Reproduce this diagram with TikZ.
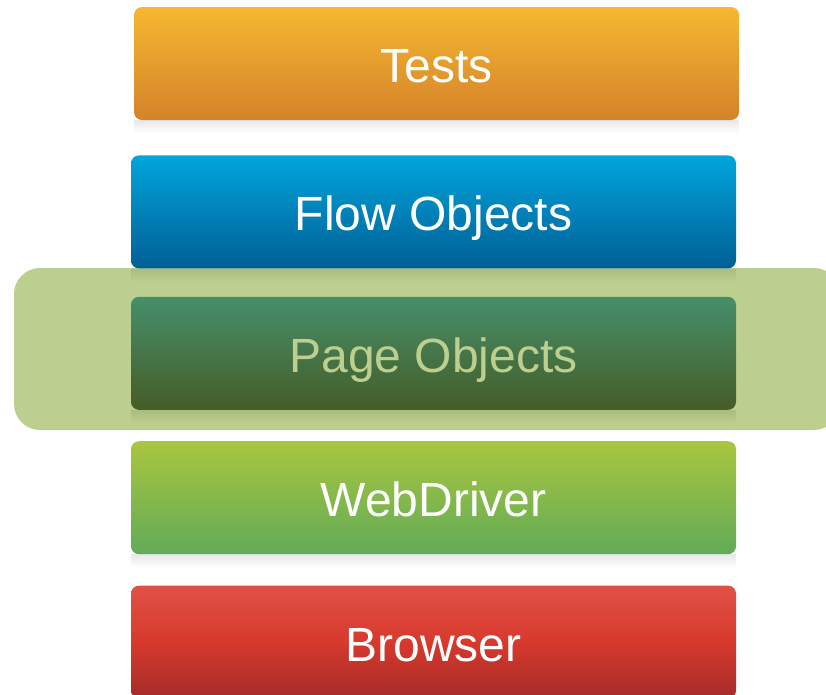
\documentclass[tikz,border=0pt]{standalone}
\usepackage{fontspec}
\setmainfont{Liberation Sans}
\usetikzlibrary{positioning,fadings}

\definecolor{testtop}{HTML}{F5B830}
\definecolor{testbot}{HTML}{D5822A}
\definecolor{flowtop}{HTML}{02A5DC}
\definecolor{flowbot}{HTML}{005F95}
\definecolor{pagetop}{HTML}{468F6B}
\definecolor{pagebot}{HTML}{455C26}
\definecolor{drivertop}{HTML}{A9C63F}
\definecolor{driverbot}{HTML}{62AB58}
\definecolor{browsertop}{HTML}{DE5246}
\definecolor{browsermid}{HTML}{D8392C}
\definecolor{browserbot}{HTML}{A32C2A}
\definecolor{bandgreen}{HTML}{BCCF8E}

\tikzset{
  layer/.style={rectangle, rounded corners=8pt, minimum width=605pt,
    minimum height=113pt, inner sep=0pt, text=white,
    font=\fontsize{48}{50}\selectfont, text height=38pt, text depth=0pt},
  mirror/.style={black, opacity=0.09, path fading=south}
}

\begin{document}
\begin{tikzpicture}[x=1pt, y=-1pt]
  \useasboundingbox (0,0) rectangle (826,694);

  % highlighted band behind the page objects
  \fill[bandgreen, rounded corners=26pt] (14,268) rectangle (840,430);

  \node[layer, top color=testtop, bottom color=testbot] (tests) at (436.5,63.5) {Tests};
  \node[layer, top color=flowtop, bottom color=flowbot, below=35pt of tests, xshift=-3pt] (flow) {Flow Objects};
  \node[layer, top color=pagetop, bottom color=pagebot, text=bandgreen, below=28pt of flow] (page) {Page Objects};
  \node[layer, top color=drivertop, bottom color=driverbot, below=31pt of page] (webdriver) {WebDriver};
  \node[layer, top color=browsertop, bottom color=browserbot, middle color=browsermid, below=31pt of webdriver] (browser) {Browser};

  % soft reflections
  \foreach \n in {tests,flow,page,webdriver}
    \fill[mirror] (\n.south west) rectangle ++(605,13);
\end{tikzpicture}
\end{document}
